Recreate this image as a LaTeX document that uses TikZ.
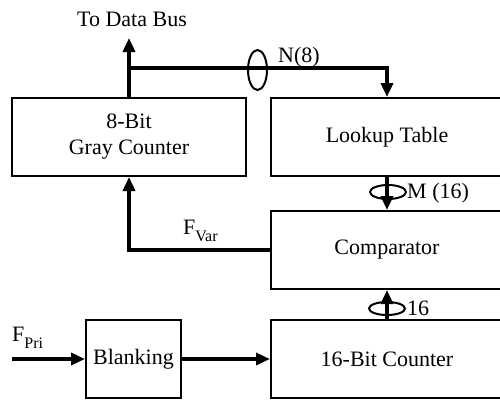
\documentclass[tikz,border=0pt]{standalone}
\usepackage{fontspec}
\setmainfont{Liberation Serif}
\usetikzlibrary{arrows.meta,shapes.geometric}
\tikzset{
  blk/.style={draw, line width=2pt, rectangle, inner sep=0pt, font=\fontsize{22}{26}\selectfont, align=center},
  bus/.style={line width=4.5pt},
  arr/.style={-{Triangle[length=14pt,width=12pt]}},
  ring/.style={draw, line width=2pt, ellipse, inner sep=0pt},
  lbl/.style={inner sep=0pt, font=\fontsize{22}{26}\selectfont},
}
\newcommand{\subtxt}[1]{\raisebox{-7.5pt}{\fontsize{16}{16}\selectfont #1}}
\begin{document}
\begin{tikzpicture}[x=1pt,y=-1pt]
\useasboundingbox (0,0) rectangle (500,399);
\clip (0,0) rectangle (500,399);
% blocks
\node[blk, minimum width=234pt, minimum height=78pt] (gray) at (129,137) {8-Bit\\Gray Counter};
\node[blk, minimum width=232pt, minimum height=78pt] (lut) at (387,137) {Lookup Table};
\node[blk, minimum width=232pt, minimum height=78pt] (cmp) at (387,250) {Comparator};
\node[blk, minimum width=232pt, minimum height=78pt] (cnt) at (387,359) {16-Bit Counter};
\node[blk, minimum width=95pt, minimum height=78pt] (blank) at (133.5,359) {Blanking};
% coordinates
\coordinate (busend) at (129,38);
\coordinate (junc) at (129,68);
\coordinate (fpri) at (12,359);
% connectors
\draw[bus, arr] (gray.north) -- (busend);
\draw[bus, arr] (junc) -| (lut.north);
\draw[bus, arr] (lut.south) -- (cmp.north);
\draw[bus, arr] (cnt.north) -- (cmp.south);
\draw[bus, arr] (cmp.west) -| (gray.south);
\draw[bus, arr] (fpri) -- (blank.west);
\draw[bus, arr] (blank.east) -- (cnt.west);
% bus rings
\node[ring, minimum width=19pt, minimum height=40pt] (ringN) at (257.5,70) {};
\node[ring, minimum width=36pt, minimum height=14pt] (ringM) at (388,192) {};
\node[ring, minimum width=36pt, minimum height=13pt] (ring16) at (387,308.5) {};
% labels
\node[lbl, anchor=base] (tdb) at (132,26) {To Data Bus};
\node[lbl, anchor=base west] (lN) at (278,62) {N(8)};
\node[lbl, anchor=base west] (lM) at (407,198) {M (16)};
\node[lbl, anchor=base west] (l16) at (407,315) {16};
\node[lbl, anchor=base west] (lvar) at (183,234) {F\subtxt{Var}};
\node[lbl, anchor=base west] (lpri) at (12,341) {F\subtxt{Pri}};
\end{tikzpicture}
\end{document}
